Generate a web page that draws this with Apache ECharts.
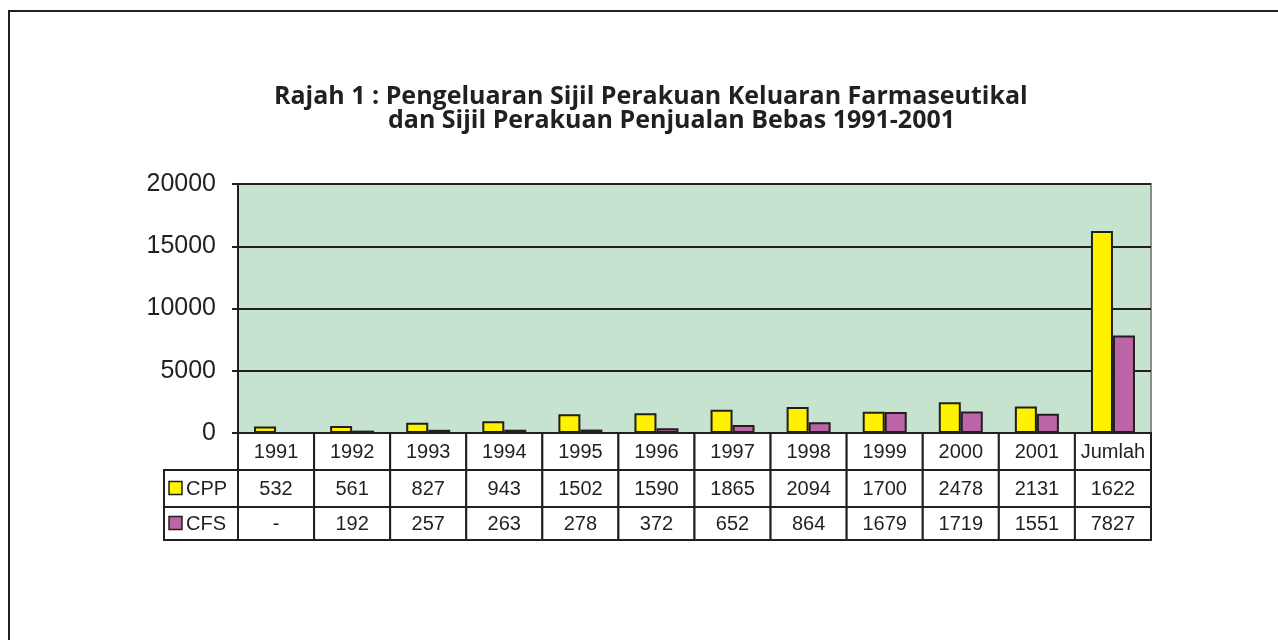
<!DOCTYPE html>
<html>
<head>
<meta charset="utf-8">
<script src="https://cdn.jsdelivr.net/npm/echarts@6/dist/echarts.min.js"></script>
<style>
  html, body { margin: 0; padding: 0; background: #fff; }
  #chart { width: 1278px; height: 640px; }
</style>
</head>
<body>
<div id="chart"></div>
<script>
// data
const categories = ['1991', '1992', '1993', '1994', '1995', '1996', '1997', '1998', '1999', '2000', '2001', 'Jumlah'];
const cppValues = [532, 561, 827, 943, 1502, 1590, 1865, 2094, 1700, 2478, 2131, 16223];
const cfsValues = ['-', 192, 257, 263, 278, 372, 652, 864, 1679, 1719, 1551, 7827];
// table text as printed (Jumlah CPP is cut to 4 digits in the source)
const cppLabels = ['532', '561', '827', '943', '1502', '1590', '1865', '2094', '1700', '2478', '2131', '1622'];
const cfsLabels = ['-', '192', '257', '263', '278', '372', '652', '864', '1679', '1719', '1551', '7827'];
const yTicks = [0, 5000, 10000, 15000, 20000];

const INK = '#231f20';
const YELLOW = '#fff200';
const PURPLE = '#bb64a7';
const FONT = '"Liberation Sans", Arial, sans-serif';
const TITLE_FONT = '"Open Sans", sans-serif';

// table row heights under the x axis
const rowH = [37, 37, 33];

const chart = echarts.init(document.getElementById('chart'));

function renderTable (params, api) {
    const idx = api.value(0);
    const p = api.coord([idx, 0]);
    const w = api.size([1, 0])[0];
    const left = p[0] - w / 2;
    const y0 = p[1];
    const cellStyle = { fill: '#fff', stroke: INK, lineWidth: 2 };
    const cellText = (txt, x, y) => ({
        type: 'text',
        style: { text: txt, x: x, y: y, align: 'center', verticalAlign: 'middle', font: '20px ' + FONT, fill: INK }
    });
    const kids = [];
    let y = y0;
    const texts = [categories[idx], cppLabels[idx], cfsLabels[idx]];
    for (let r = 0; r < 3; r++) {
        kids.push({ type: 'rect', shape: { x: left, y: y, width: w, height: rowH[r] }, style: cellStyle });
        kids.push(cellText(texts[r], p[0], y + rowH[r] / 2 + 1));
        y += rowH[r];
    }
    if (idx === 0) {
        // series name column on the left of the table
        const lx = left - 74;
        let ly = y0 + rowH[0];
        const names = [['CPP', YELLOW], ['CFS', PURPLE]];
        for (let r = 0; r < 2; r++) {
            const h = rowH[r + 1];
            kids.push({ type: 'rect', shape: { x: lx, y: ly, width: 74, height: h }, style: cellStyle });
            kids.push({ type: 'rect', shape: { x: lx + 5, y: ly + h / 2 - 7, width: 13, height: 13 },
                style: { fill: names[r][1], stroke: INK, lineWidth: 1.5 } });
            kids.push({ type: 'text', style: { text: names[r][0], x: lx + 22, y: ly + h / 2 + 1,
                align: 'left', verticalAlign: 'middle', font: '20px ' + FONT, fill: INK } });
            ly += h;
        }
    }
    return { type: 'group', children: kids };
}

chart.setOption({
    animation: false,
    backgroundColor: '#fff',
    textStyle: { fontFamily: FONT, color: INK },
    title: [
        {
            text: 'Rajah 1 : Pengeluaran Sijil Perakuan Keluaran Farmaseutikal',
            left: 269, top: 79,
            textStyle: { fontFamily: TITLE_FONT, fontWeight: 'bold', fontSize: 25, color: INK }
        },
        {
            text: 'dan Sijil Perakuan Penjualan Bebas 1991-2001',
            left: 383, top: 103,
            textStyle: { fontFamily: TITLE_FONT, fontWeight: 'bold', fontSize: 25, color: INK }
        }
    ],
    graphic: [
        { type: 'rect', shape: { x: 9, y: 11, width: 1400, height: 800 },
          style: { fill: null, stroke: INK, lineWidth: 2 }, z: 100 }
    ],
    grid: {
        left: 238, top: 184, width: 913, height: 249,
        show: true, backgroundColor: '#c5e3ce', borderColor: '#8a8d8f', borderWidth: 2
    },
    xAxis: {
        type: 'category',
        data: categories,
        axisLine: { lineStyle: { color: INK, width: 2 } },
        axisTick: { show: false },
        axisLabel: { show: false },
        splitLine: { show: false }
    },
    yAxis: {
        type: 'value',
        min: yTicks[0], max: yTicks[yTicks.length - 1], interval: 5000,
        axisLine: { show: true, lineStyle: { color: INK, width: 2 } },
        axisTick: { show: true, length: 6, lineStyle: { color: INK, width: 2 } },
        axisLabel: { fontSize: 25, color: INK, margin: 22, fontFamily: FONT, formatter: v => String(v) },
        splitLine: { lineStyle: { color: INK, width: 2 } }
    },
    series: [
        {
            name: 'CPP', type: 'bar', data: cppValues,
            barWidth: 22, barGap: '0%',
            itemStyle: { color: YELLOW, borderColor: INK, borderWidth: 2 }
        },
        {
            name: 'CFS', type: 'bar', data: cfsValues,
            barWidth: 22,
            itemStyle: { color: PURPLE, borderColor: INK, borderWidth: 2 }
        },
        {
            type: 'custom', name: 'table',
            data: categories.map((c, i) => [i, 0]),
            renderItem: renderTable,
            clip: false, silent: true, z: 5
        }
    ]
});
</script>
</body>
</html>
